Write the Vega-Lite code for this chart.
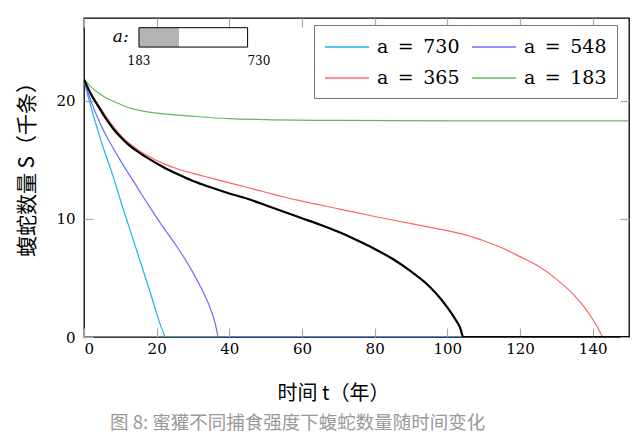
{
  "$schema": "https://vega.github.io/schema/vega-lite/v6.json",
  "width": 545,
  "height": 319,
  "autosize": {"type": "none"},
  "padding": {"left": 84, "top": 18, "right": 11, "bottom": 107},
  "background": "white",
  "title": {
    "text": "图 8: 蜜獾不同捕食强度下蝮蛇数量随时间变化",
    "orient": "bottom",
    "anchor": "start",
    "frame": "group",
    "dx": 26,
    "offset": 11,
    "font": "Noto Sans CJK SC",
    "fontSize": 18.5,
    "fontWeight": "normal",
    "color": "#999999"
  },
  "datasets": {
    "curves": [
      {"t": 0, "S": 21.8, "a": "730"}, {"t": 1, "S": 20.5, "a": "730"}, {"t": 2, "S": 19.4, "a": "730"}, {"t": 3, "S": 18.3, "a": "730"}, {"t": 4, "S": 17.3, "a": "730"}, {"t": 5, "S": 16.3, "a": "730"}, {"t": 6, "S": 15.4, "a": "730"}, {"t": 8, "S": 13.6, "a": "730"}, {"t": 10, "S": 11.6, "a": "730"}, {"t": 12, "S": 9.7, "a": "730"}, {"t": 14, "S": 7.8, "a": "730"}, {"t": 16, "S": 5.9, "a": "730"}, {"t": 18, "S": 4.0, "a": "730"}, {"t": 20, "S": 2.0, "a": "730"}, {"t": 21, "S": 1.05, "a": "730"}, {"t": 22, "S": 0.25, "a": "730"}, {"t": 22.3, "S": 0, "a": "730"}, {"t": 150, "S": 0, "a": "730"},
      {"t": 0, "S": 21.8, "a": "548"}, {"t": 1, "S": 20.8, "a": "548"}, {"t": 2, "S": 19.9, "a": "548"}, {"t": 3, "S": 19.1, "a": "548"}, {"t": 4, "S": 18.4, "a": "548"}, {"t": 5, "S": 17.7, "a": "548"}, {"t": 6, "S": 17.1, "a": "548"}, {"t": 8, "S": 16.0, "a": "548"}, {"t": 10, "S": 14.95, "a": "548"}, {"t": 12, "S": 13.95, "a": "548"}, {"t": 14, "S": 13.0, "a": "548"}, {"t": 16, "S": 12.0, "a": "548"}, {"t": 18, "S": 11.05, "a": "548"}, {"t": 20, "S": 10.1, "a": "548"}, {"t": 22, "S": 9.2, "a": "548"}, {"t": 24, "S": 8.35, "a": "548"}, {"t": 26, "S": 7.45, "a": "548"}, {"t": 28, "S": 6.5, "a": "548"}, {"t": 30, "S": 5.45, "a": "548"}, {"t": 32, "S": 4.3, "a": "548"}, {"t": 34, "S": 3.0, "a": "548"}, {"t": 35.5, "S": 1.8, "a": "548"}, {"t": 36.3, "S": 0.9, "a": "548"}, {"t": 37, "S": 0, "a": "548"}, {"t": 150, "S": 0, "a": "548"},
      {"t": 0, "S": 21.8, "a": "365"}, {"t": 2, "S": 20.6, "a": "365"}, {"t": 4, "S": 19.6, "a": "365"}, {"t": 6, "S": 18.7, "a": "365"}, {"t": 8, "S": 17.85, "a": "365"}, {"t": 10, "S": 17.1, "a": "365"}, {"t": 12, "S": 16.5, "a": "365"}, {"t": 15, "S": 15.8, "a": "365"}, {"t": 18, "S": 15.25, "a": "365"}, {"t": 22, "S": 14.65, "a": "365"}, {"t": 26, "S": 14.2, "a": "365"}, {"t": 30, "S": 13.85, "a": "365"}, {"t": 35, "S": 13.45, "a": "365"}, {"t": 40, "S": 13.05, "a": "365"}, {"t": 45, "S": 12.65, "a": "365"}, {"t": 50, "S": 12.25, "a": "365"}, {"t": 55, "S": 11.85, "a": "365"}, {"t": 60, "S": 11.5, "a": "365"}, {"t": 70, "S": 10.85, "a": "365"}, {"t": 80, "S": 10.2, "a": "365"}, {"t": 90, "S": 9.6, "a": "365"}, {"t": 95, "S": 9.3, "a": "365"}, {"t": 100, "S": 9.0, "a": "365"}, {"t": 105, "S": 8.65, "a": "365"}, {"t": 110, "S": 8.15, "a": "365"}, {"t": 115, "S": 7.55, "a": "365"}, {"t": 120, "S": 6.8, "a": "365"}, {"t": 125, "S": 6.0, "a": "365"}, {"t": 130, "S": 4.9, "a": "365"}, {"t": 135, "S": 3.5, "a": "365"}, {"t": 138, "S": 2.4, "a": "365"}, {"t": 140, "S": 1.5, "a": "365"}, {"t": 141.5, "S": 0.75, "a": "365"}, {"t": 142.9, "S": 0, "a": "365"}, {"t": 150, "S": 0, "a": "365"},
      {"t": 0, "S": 21.8, "a": "183"}, {"t": 2, "S": 21.15, "a": "183"}, {"t": 4, "S": 20.65, "a": "183"}, {"t": 6, "S": 20.25, "a": "183"}, {"t": 8, "S": 19.95, "a": "183"}, {"t": 10, "S": 19.7, "a": "183"}, {"t": 12, "S": 19.45, "a": "183"}, {"t": 15, "S": 19.2, "a": "183"}, {"t": 20, "S": 18.95, "a": "183"}, {"t": 25, "S": 18.8, "a": "183"}, {"t": 30, "S": 18.68, "a": "183"}, {"t": 40, "S": 18.48, "a": "183"}, {"t": 50, "S": 18.4, "a": "183"}, {"t": 70, "S": 18.33, "a": "183"}, {"t": 100, "S": 18.3, "a": "183"}, {"t": 150, "S": 18.3, "a": "183"},
      {"t": 0, "S": 21.8, "a": "current"}, {"t": 2, "S": 20.5, "a": "current"}, {"t": 4, "S": 19.5, "a": "current"}, {"t": 6, "S": 18.5, "a": "current"}, {"t": 8, "S": 17.65, "a": "current"}, {"t": 10, "S": 16.95, "a": "current"}, {"t": 12, "S": 16.35, "a": "current"}, {"t": 15, "S": 15.65, "a": "current"}, {"t": 18, "S": 15.05, "a": "current"}, {"t": 22, "S": 14.35, "a": "current"}, {"t": 26, "S": 13.75, "a": "current"}, {"t": 30, "S": 13.2, "a": "current"}, {"t": 35, "S": 12.65, "a": "current"}, {"t": 40, "S": 12.15, "a": "current"}, {"t": 45, "S": 11.7, "a": "current"}, {"t": 50, "S": 11.15, "a": "current"}, {"t": 55, "S": 10.6, "a": "current"}, {"t": 60, "S": 10.05, "a": "current"}, {"t": 65, "S": 9.5, "a": "current"}, {"t": 70, "S": 8.9, "a": "current"}, {"t": 75, "S": 8.2, "a": "current"}, {"t": 80, "S": 7.45, "a": "current"}, {"t": 85, "S": 6.6, "a": "current"}, {"t": 90, "S": 5.55, "a": "current"}, {"t": 95, "S": 4.3, "a": "current"}, {"t": 98, "S": 3.3, "a": "current"}, {"t": 100, "S": 2.5, "a": "current"}, {"t": 102, "S": 1.6, "a": "current"}, {"t": 103.5, "S": 0.8, "a": "current"}, {"t": 104.4, "S": 0, "a": "current"}, {"t": 150, "S": 0, "a": "current"}
    ],
    "slider": [{"amin": 183, "amax": 730, "aval": 386}]
  },
  "resolve": {"axis": {"x": "independent", "y": "independent"}},
  "layer": [
    {
      "data": {"name": "curves"},
      "transform": [{"filter": "datum.a !== 'current'"}],
      "mark": {"type": "line", "strokeWidth": 1.2, "clip": true, "interpolate": "monotone"},
      "encoding": {
        "x": {
          "field": "t", "type": "quantitative",
          "scale": {"domain": [0, 150], "nice": false, "zero": false},
          "axis": {
            "orient": "bottom", "values": [0, 20, 40, 60, 80, 100, 120, 140],
            "domain": false, "grid": false,
            "tickSize": -9, "tickColor": "#aaaaaa", "tickWidth": 1.2,
            "labelFont": "DejaVu Serif", "labelFontSize": 15, "labelColor": "black", "labelPadding": 13,
            "title": "时间 t（年）", "titleFont": "Noto Sans CJK SC", "titleFontSize": 20,
            "titleFontWeight": "normal", "titleColor": "black",
            "titleX": 249, "titleY": 56, "titleBaseline": "middle", "titleAlign": "center"
          }
        },
        "y": {
          "field": "S", "type": "quantitative",
          "scale": {"domain": [0, 27], "nice": false},
          "axis": {
            "orient": "left", "values": [0, 10, 20],
            "domain": false, "grid": false,
            "tickSize": -9, "tickColor": "#aaaaaa", "tickWidth": 1.2,
            "labelFont": "DejaVu Serif", "labelFontSize": 15, "labelColor": "black", "labelPadding": 18,
            "title": "蝮蛇数量 S（千条）", "titleFont": "Noto Sans CJK SC", "titleFontSize": 21,
            "titleFontWeight": "normal", "titleColor": "black",
            "titleX": -57, "titleY": 146, "titleBaseline": "middle", "titleAlign": "center", "titleAngle": 270
          }
        },
        "color": {
          "field": "a", "type": "nominal",
          "scale": {"domain": ["730", "365", "548", "183"], "range": ["#1fb1e9", "#ff6464", "#6b6bff", "#5fba5f"]},
          "legend": {
            "orient": "none", "legendX": 230, "legendY": 7, "columns": 2,
            "title": null, "symbolType": "M-1,0H3", "symbolSize": 484, "symbolStrokeWidth": 1.4,
            "labelFont": "DejaVu Serif", "labelFontSize": 19, "labelColor": "black", "labelOffset": 29, "labelLimit": 0,
            "labelExpr": "'a\u2002=\u2002' + datum.label",
            "columnPadding": 9, "rowPadding": 9, "padding": 10,
            "strokeColor": "#777777", "fillColor": "white"
          }
        }
      }
    },
    {
      "data": {"name": "curves"},
      "transform": [{"filter": "datum.a === 'current'"}],
      "mark": {"type": "line", "strokeWidth": 2.2, "color": "black", "clip": true, "interpolate": "monotone"},
      "encoding": {
        "x": {
          "field": "t", "type": "quantitative",
          "axis": {"orient": "top", "values": [0, 20, 40, 60, 80, 100, 120, 140], "domain": false, "grid": false, "labels": false, "title": null, "tickSize": -9, "tickColor": "#aaaaaa", "tickWidth": 1.2}
        },
        "y": {
          "field": "S", "type": "quantitative",
          "axis": {"orient": "right", "values": [0, 10, 20], "domain": false, "grid": false, "labels": false, "title": null, "tickSize": -9, "tickColor": "#aaaaaa", "tickWidth": 1.2}
        }
      }
    },
    {
      "data": {"name": "slider"},
      "mark": {"type": "rect", "fill": "white", "stroke": null},
      "encoding": {
        "x": {"datum": 15.13, "type": "quantitative", "axis": null},
        "x2": {"datum": 45.03},
        "y": {"datum": 24.54, "type": "quantitative", "axis": null},
        "y2": {"datum": 26.18}
      }
    },
    {
      "data": {"name": "slider"},
      "mark": {"type": "rect", "fill": "#b3b3b3", "stroke": null},
      "encoding": {
        "x": {"datum": 15.13, "type": "quantitative", "axis": null},
        "x2": {"datum": 26.13},
        "y": {"datum": 24.54, "type": "quantitative", "axis": null},
        "y2": {"datum": 26.18}
      }
    },
    {
      "data": {"name": "slider"},
      "mark": {"type": "rect", "fill": null, "fillOpacity": 0, "stroke": "black", "strokeWidth": 1},
      "encoding": {
        "x": {"datum": 15.13, "type": "quantitative", "axis": null},
        "x2": {"datum": 45.03},
        "y": {"datum": 24.54, "type": "quantitative", "axis": null},
        "y2": {"datum": 26.18}
      }
    },
    {
      "data": {"name": "slider"},
      "mark": {"type": "text", "text": "a:", "font": "DejaVu Serif", "fontStyle": "italic", "fontSize": 17, "align": "center", "baseline": "middle", "color": "black"},
      "encoding": {
        "x": {"datum": 10.1, "type": "quantitative", "axis": null},
        "y": {"datum": 25.4, "type": "quantitative", "axis": null}
      }
    },
    {
      "data": {"name": "slider"},
      "mark": {"type": "text", "font": "DejaVu Serif", "fontSize": 12, "align": "center", "baseline": "middle", "color": "black"},
      "encoding": {
        "text": {"field": "amin", "type": "quantitative"},
        "x": {"datum": 15.13, "type": "quantitative", "axis": null},
        "y": {"datum": 23.4, "type": "quantitative", "axis": null}
      }
    },
    {
      "data": {"name": "slider"},
      "mark": {"type": "text", "font": "DejaVu Serif", "fontSize": 12, "align": "center", "baseline": "middle", "color": "black"},
      "encoding": {
        "text": {"field": "amax", "type": "quantitative"},
        "x": {"datum": 48.14, "type": "quantitative", "axis": null},
        "y": {"datum": 23.4, "type": "quantitative", "axis": null}
      }
    }
  ],
  "config": {
    "view": {"stroke": "black", "strokeWidth": 1.3},
    "font": "DejaVu Serif"
  }
}
